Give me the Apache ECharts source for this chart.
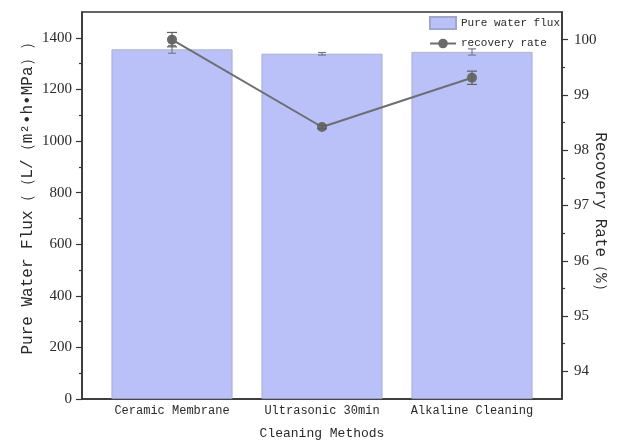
<!DOCTYPE html>
<html>
<head>
<meta charset="utf-8">
<script src="https://cdn.jsdelivr.net/npm/echarts@6/dist/echarts.min.js"></script>
<style>
  html, body { margin: 0; padding: 0; background: #ffffff; }
  #chart { width: 619px; height: 443px; }
</style>
</head>
<body>
<div id="chart"></div>
<script>
// Cleaning methods and measured results
const categories = ['Ceramic Membrane', 'Ultrasonic 30min', 'Alkaline Cleaning'];
const fluxValues = [1355, 1338, 1345];        // L/(m2·h·MPa)
const fluxErrors = [15, 5, 12];
const recoveryValues = [100.0, 98.42, 99.31]; // %
const recoveryErrors = [0.13, 0.03, 0.12];
const fluxTicks = [0, 200, 400, 600, 800, 1000, 1200, 1400];
const fluxMinorTicks = [100, 300, 500, 700, 900, 1100, 1300];
const rateTicks = [94, 95, 96, 97, 98, 99, 100];
const rateMinorTicks = [94.5, 95.5, 96.5, 97.5, 98.5, 99.5];

const positions = categories.map((_, i) => i + 1);
const axisColor = '#333';
const textColor = '#2a2a2a';
const monoFont = '"Liberation Mono", "DejaVu Sans Mono", monospace';
const serifFont = '"Liberation Serif", "DejaVu Serif", serif';

function errorBarSeries(values, errors, yAxisIndex, color, capHalf, z) {
  return {
    type: 'custom',
    yAxisIndex: yAxisIndex,
    z: z,
    silent: true,
    data: positions.map((x, i) => [x, values[i] - errors[i], values[i] + errors[i]]),
    renderItem: function (params, api) {
      const x = api.value(0);
      const lo = api.coord([x, api.value(1)]);
      const hi = api.coord([x, api.value(2)]);
      const style = { stroke: color, lineWidth: 1.2 };
      return {
        type: 'group',
        children: [
          { type: 'line', shape: { x1: lo[0], y1: lo[1], x2: hi[0], y2: hi[1] }, style: style },
          { type: 'line', shape: { x1: lo[0] - capHalf, y1: lo[1], x2: lo[0] + capHalf, y2: lo[1] }, style: style },
          { type: 'line', shape: { x1: hi[0] - capHalf, y1: hi[1], x2: hi[0] + capHalf, y2: hi[1] }, style: style }
        ]
      };
    }
  };
}

const chart = echarts.init(document.getElementById('chart'), null, { renderer: 'canvas' });

chart.setOption({
  backgroundColor: '#ffffff',
  animation: false,
  grid: {
    left: 82, right: 57, top: 12, bottom: 44,
    outerBoundsMode: 'none',
    containLabel: false,
    show: true, borderColor: axisColor, borderWidth: 1.5, backgroundColor: 'transparent'
  },
  legend: {
    orient: 'vertical',
    left: 424, top: 11,
    itemWidth: 26, itemHeight: 12, itemGap: 8,
    textStyle: { fontFamily: monoFont, fontSize: 11, color: textColor },
    data: [
      { name: 'Pure water flux', icon: 'rect' },
      { name: 'recovery rate' }
    ]
  },
  xAxis: {
    type: 'value',
    min: 0.4, max: 3.6,
    name: 'Cleaning Methods',
    nameLocation: 'middle',
    nameGap: 28,
    nameMoveOverlap: false,
    nameTextStyle: { fontFamily: monoFont, fontSize: 13, color: textColor },
    axisLine: { show: true, lineStyle: { color: axisColor, width: 1.5 } },
    axisTick: { show: false },
    splitLine: { show: false },
    axisLabel: {
      customValues: positions,
      formatter: v => categories[Math.round(v) - 1] || '',
      fontFamily: monoFont, fontSize: 12, color: textColor, margin: 6
    }
  },
  yAxis: [
    {
      type: 'value', position: 'left', min: 0, max: 1500,
      name: 'Pure Water Flux（（L/（m²•h•MPa））',
      nameLocation: 'middle', nameGap: 46,
      nameMoveOverlap: false,
      nameTextStyle: { fontFamily: monoFont, fontSize: 16, color: textColor, padding: [0, 0, 0, 22] },
      axisLine: { show: true, lineStyle: { color: axisColor, width: 1.5 } },
      axisTick: { show: true, customValues: fluxTicks, length: 6, lineStyle: { color: axisColor, width: 1.2 } },
      axisLabel: { customValues: fluxTicks, formatter: v => String(v), fontFamily: serifFont, fontSize: 15, color: textColor, margin: 10 },
      splitLine: { show: false }
    },
    {
      type: 'value', position: 'right', min: 93.5, max: 100.5,
      name: 'Recovery Rate（%）',
      nameLocation: 'middle', nameGap: 30, nameRotate: -90,
      nameMoveOverlap: false,
      nameTextStyle: { fontFamily: monoFont, fontSize: 16, color: textColor, padding: [0, 0, 0, 20] },
      axisLine: { show: true, lineStyle: { color: axisColor, width: 1.5 } },
      axisTick: { show: true, customValues: rateTicks, length: 6, lineStyle: { color: axisColor, width: 1.2 } },
      axisLabel: { customValues: rateTicks, formatter: v => String(v), fontFamily: serifFont, fontSize: 15, color: textColor, margin: 12 },
      splitLine: { show: false }
    },
    {
      type: 'value', position: 'left', min: 0, max: 1500,
      axisLine: { show: false },
      axisTick: { show: true, customValues: fluxMinorTicks, length: 3, lineStyle: { color: axisColor, width: 1.2 } },
      axisLabel: { show: false },
      splitLine: { show: false }
    },
    {
      type: 'value', position: 'right', min: 93.5, max: 100.5,
      axisLine: { show: false },
      axisTick: { show: true, customValues: rateMinorTicks, length: 3, lineStyle: { color: axisColor, width: 1.2 } },
      axisLabel: { show: false },
      splitLine: { show: false }
    }
  ],
  series: [
    {
      name: 'Pure water flux',
      type: 'bar',
      yAxisIndex: 0,
      barWidth: 121,
      z: 1,
      itemStyle: { color: '#bac1f8', borderColor: '#a0a6cc', borderWidth: 0.8 },
      data: positions.map((x, i) => [x, fluxValues[i]])
    },
    errorBarSeries(fluxValues, fluxErrors, 0, '#7a7a8a', 4, 2),
    {
      name: 'recovery rate',
      type: 'line',
      yAxisIndex: 1,
      z: 4,
      symbol: 'circle',
      symbolSize: 10,
      lineStyle: { color: '#6e6e6e', width: 2 },
      itemStyle: { color: '#6a6a6a' },
      data: positions.map((x, i) => [x, recoveryValues[i]])
    },
    errorBarSeries(recoveryValues, recoveryErrors, 1, '#606060', 5, 5)
  ]
});
</script>
</body>
</html>
